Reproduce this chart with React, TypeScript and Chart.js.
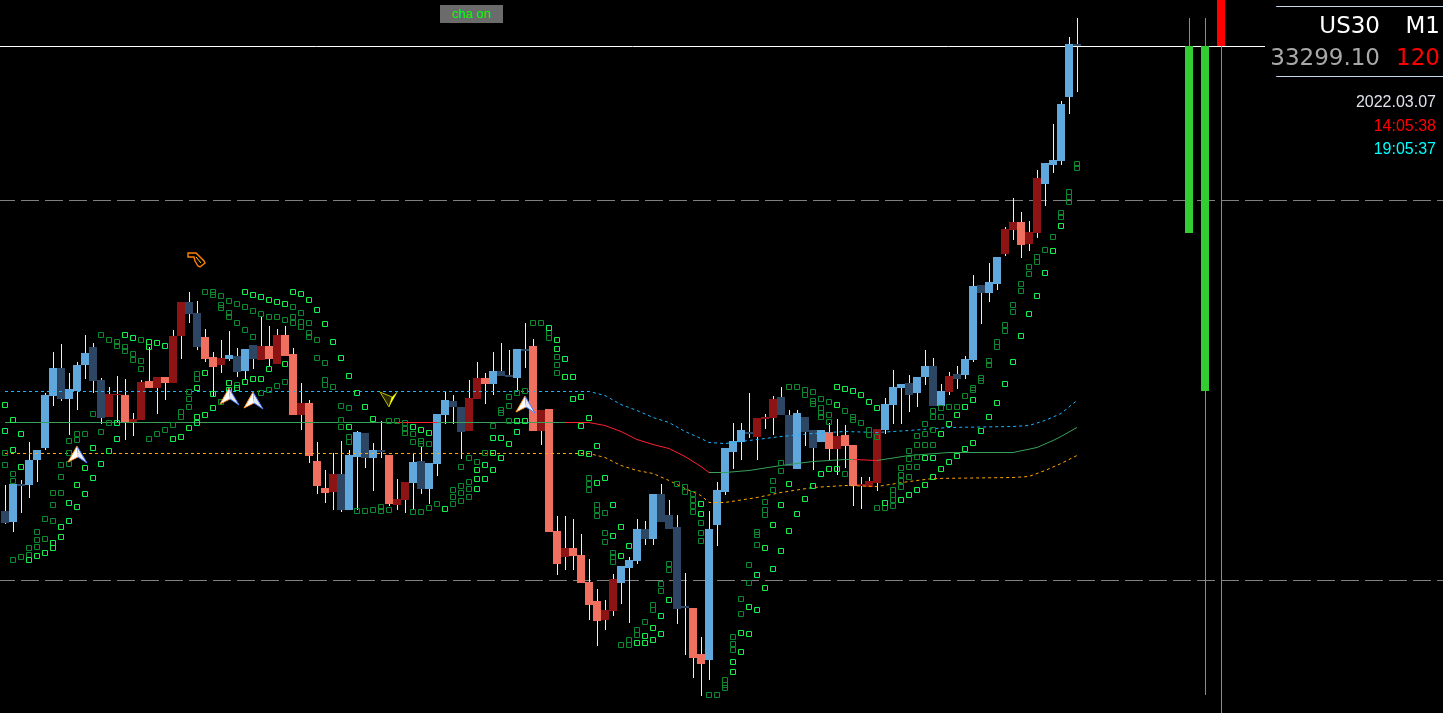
import React, { useEffect, useRef } from "react";
import { Chart, registerables } from "chart.js";
Chart.register(...registerables);

// ---------- candles (US30, M1) ----------
const candleOpen = [
  33066.6, 33061.1, 33080.1, 33079.6, 33092.1, 33098.1, 33124.1, 33138.1, 33122.6, 33126.6,
  33139.6, 33148.6, 33132.1, 33113.6, 33124.6, 33124.6, 33110.6, 33112.1, 33131.6, 33128.1,
  33133.6, 33130.6, 33154.1, 33171.1, 33165.6, 33153.6, 33143.6, 33139.6, 33142.6, 33144.1,
  33136.6, 33149.6, 33142.1, 33149.1, 33140.1, 33154.6, 33145.1, 33114.6, 33120.6, 33091.6,
  33078.1, 33076.1, 33085.1, 33067.1, 33093.6, 33105.6, 33093.1, 33097.1, 33094.6, 33069.6,
  33072.1, 33080.6, 33091.6, 33077.6, 33090.1, 33114.6, 33121.6, 33118.6, 33106.6, 33122.6,
  33133.1, 33130.1, 33136.6, 33134.6, 33133.1, 33147.6, 33149.1, 33106.6, 33117.6, 33056.6,
  33043.6, 33048.1, 33044.6, 33031.1, 33021.6, 33012.1, 33016.6, 33030.6, 33038.1, 33041.6,
  33057.6, 33052.6, 33075.1, 33064.6, 33058.6, 33019.1, 33018.1, 32995.1, 32992.1, 33059.6,
  33076.1, 33096.1, 33101.1, 33106.1, 33103.6, 33112.6, 33113.1, 33123.6, 33114.6, 33087.6,
  33113.6, 33107.1, 33101.1, 33106.1, 33097.6, 33104.6, 33099.6, 33079.1, 33078.6, 33080.6,
  33107.1, 33119.6, 33128.1, 33130.6, 33125.6, 33133.6, 33139.1, 33119.1, 33126.1, 33135.1,
  33134.6, 33142.1, 33179.6, 33175.6, 33180.1, 33195.1, 33207.1, 33211.1, 33200.1, 33205.6,
  33230.1, 33239.6, 33241.6, 33273.6, 33300.1,
];
const candleHigh = [
  33079.6, 33080.1, 33082.1, 33101.1, 33097.1, 33125.6, 33146.1, 33150.1, 33135.6, 33141.1,
  33154.6, 33150.6, 33133.1, 33128.6, 33134.1, 33132.6, 33115.6, 33132.1, 33148.6, 33133.6,
  33133.6, 33157.1, 33171.1, 33176.1, 33171.6, 33157.6, 33146.1, 33152.1, 33156.6, 33148.1,
  33147.6, 33149.6, 33164.1, 33159.1, 33157.6, 33159.1, 33148.1, 33130.6, 33122.1, 33101.1,
  33087.1, 33095.6, 33101.6, 33097.1, 33106.6, 33105.6, 33100.6, 33111.6, 33094.6, 33082.6,
  33081.1, 33095.6, 33099.1, 33090.6, 33115.1, 33126.6, 33124.6, 33118.6, 33132.1, 33141.1,
  33135.6, 33146.1, 33150.6, 33147.1, 33147.6, 33160.6, 33152.6, 33117.1, 33117.6, 33064.1,
  33064.1, 33062.6, 33055.1, 33042.6, 33027.6, 33022.1, 33035.1, 33039.1, 33043.6, 33062.6,
  33061.6, 33075.1, 33080.1, 33072.1, 33064.6, 33035.6, 33018.1, 33003.6, 33066.6, 33081.1,
  33098.1, 33110.6, 33110.6, 33125.6, 33113.1, 33115.1, 33124.1, 33128.6, 33117.1, 33117.1,
  33113.6, 33107.1, 33107.1, 33110.6, 33112.6, 33109.6, 33099.6, 33083.6, 33083.6, 33107.6,
  33123.1, 33137.1, 33130.1, 33134.6, 33133.6, 33147.1, 33143.1, 33130.1, 33136.1, 33139.1,
  33144.1, 33184.6, 33179.6, 33190.6, 33193.6, 33208.6, 33223.1, 33216.1, 33211.6, 33237.1,
  33240.6, 33260.1, 33271.6, 33303.6, 33313.1,
];
const candleLow = [
  33060.1, 33056.1, 33065.6, 33073.1, 33081.1, 33097.1, 33119.1, 33121.6, 33104.6, 33117.1,
  33132.6, 33125.6, 33110.1, 33113.6, 33110.6, 33102.1, 33104.1, 33112.1, 33128.1, 33115.1,
  33122.1, 33130.6, 33142.6, 33160.6, 33147.1, 33141.1, 33123.6, 33135.6, 33141.6, 33133.6,
  33132.1, 33137.6, 33142.1, 33138.6, 33140.1, 33144.1, 33114.6, 33107.1, 33090.6, 33075.1,
  33070.6, 33067.1, 33066.1, 33067.1, 33067.1, 33088.1, 33076.6, 33093.1, 33069.1, 33067.1,
  33065.6, 33067.1, 33075.1, 33070.1, 33084.1, 33110.1, 33110.1, 33092.6, 33106.6, 33122.6,
  33120.1, 33124.6, 33134.1, 33133.6, 33126.1, 33138.1, 33106.6, 33099.6, 33056.1, 33034.6,
  33037.1, 33037.1, 33030.6, 33012.1, 32999.1, 33007.1, 33014.1, 33020.1, 33010.6, 33040.1,
  33049.6, 33049.6, 33061.1, 33057.6, 33010.1, 32994.6, 32983.1, 32974.1, 32982.1, 33049.1,
  33074.6, 33087.6, 33092.1, 33103.1, 33092.1, 33107.6, 33104.6, 33114.6, 33089.1, 33087.6,
  33099.1, 33087.1, 33101.1, 33092.1, 33084.6, 33088.1, 33069.1, 33067.6, 33078.6, 33076.6,
  33105.1, 33110.1, 33110.1, 33116.1, 33118.6, 33129.6, 33119.1, 33119.1, 33124.6, 33127.6,
  33132.6, 33141.1, 33160.1, 33171.1, 33177.1, 33194.1, 33202.1, 33193.1, 33196.6, 33203.1,
  33219.1, 33235.6, 33239.6, 33265.1, 33276.1,
];
const candleClose = [
  33060.6, 33080.1, 33079.1, 33092.1, 33097.1, 33124.6, 33138.1, 33122.6, 33127.6, 33139.6,
  33145.6, 33131.6, 33113.1, 33125.1, 33125.1, 33110.6, 33112.6, 33131.1, 33128.1, 33133.6,
  33130.6, 33154.1, 33171.1, 33165.1, 33148.6, 33142.6, 33138.6, 33143.1, 33144.6, 33136.1,
  33147.6, 33142.6, 33149.1, 33142.6, 33154.6, 33144.1, 33114.6, 33120.6, 33094.1, 33079.1,
  33075.6, 33085.1, 33067.1, 33094.6, 33106.1, 33093.1, 33097.1, 33096.1, 33070.1, 33072.6,
  33081.1, 33091.1, 33077.6, 33090.6, 33115.1, 33122.1, 33118.6, 33106.1, 33123.1, 33133.1,
  33130.1, 33136.6, 33134.1, 33133.6, 33147.6, 33146.6, 33106.6, 33117.1, 33056.1, 33040.1,
  33048.1, 33044.1, 33030.6, 33019.6, 33011.6, 33017.1, 33032.6, 33039.1, 33042.1, 33057.6,
  33052.6, 33075.1, 33061.1, 33057.6, 33017.6, 33018.1, 32993.1, 32990.1, 33057.6, 33077.1,
  33098.1, 33101.6, 33107.1, 33105.1, 33113.1, 33113.6, 33122.6, 33114.6, 33089.1, 33115.6,
  33106.1, 33098.1, 33107.1, 33097.6, 33104.1, 33099.1, 33079.1, 33080.1, 33081.6, 33107.6,
  33120.1, 33128.6, 33130.1, 33124.6, 33133.6, 33139.1, 33119.1, 33126.6, 33134.1, 33132.6,
  33142.6, 33179.1, 33175.6, 33181.1, 33193.6, 33207.6, 33211.1, 33199.6, 33206.1, 33233.1,
  33240.6, 33242.1, 33270.1, 33300.1, 33299.1,
];
// trend state of the colouring indicator: 1 = blue family, -1 = red family
const candleTrend = [
  1, 1, 1, 1, 1, 1, 1, 1, 1, 1, 1, 1, 1, -1, -1, -1, -1, -1, -1, -1,
  -1, -1, -1, 1, 1, -1, -1, -1, 1, 1, 1, 1, -1, -1, -1, -1, -1, -1, -1, -1,
  -1, -1, 1, 1, 1, 1, 1, 1, -1, -1, -1, 1, 1, 1, 1, 1, 1, 1, -1, -1,
  -1, 1, 1, 1, 1, 1, -1, -1, -1, -1, -1, -1, -1, -1, -1, -1, -1, 1, 1, 1,
  1, 1, 1, 1, 1, 1, -1, -1, 1, 1, 1, 1, 1, 1, -1, -1, -1, 1, 1, 1,
  1, 1, 1, -1, -1, -1, -1, -1, -1, -1, 1, 1, 1, 1, 1, 1, 1, 1, -1, 1,
  1, 1, 1, 1, 1, -1, -1, -1, -1, -1, 1, 1, 1, 1, 1,
];

// ---------- parabolic SAR dots [bar index, price] ----------
const sarFast: [number, number][] = [
  [0,33119.6],[0,33106.6],[1,33112.1],[1,33097.1],[2,33105.1],[2,33088.6],[3,33042.1],[4,33044.1],[5,33045.6],
  [6,33050.6],[6,33048.1],[7,33058.6],[7,33053.6],[8,33070.6],[8,33061.6],[9,33079.6],[9,33068.6],[10,33088.1],
  [10,33075.1],[11,33098.1],[11,33083.1],[12,33090.1],[13,33096.6],[14,33110.6],[14,33102.6],[15,33154.6],
  [16,33153.1],[18,33151.1],[18,33148.6],[19,33150.6],[20,33149.1],[21,33102.6],[22,33103.6],[23,33108.1],
  [24,33128.1],[24,33113.6],[24,33110.6],[25,33135.6],[25,33114.6],[26,33125.1],[26,33118.1],[28,33130.6],
  [28,33127.1],[29,33128.1],[30,33176.1],[30,33131.1],[31,33174.6],[31,33132.6],[32,33173.6],[32,33132.6],
  [33,33172.1],[33,33137.6],[34,33171.1],[35,33170.1],[35,33140.1],[36,33176.1],[37,33175.1],[38,33172.1],
  [39,33167.1],[40,33160.1],[41,33151.1],[42,33143.1],[43,33134.1],[43,33108.6],[44,33125.6],[45,33118.6],
  [46,33112.6],[51,33108.6],[52,33107.1],[53,33105.6],[55,33067.6],[59,33077.6],[59,33082.6],[59,33087.1],
  [60,33082.6],[60,33089.6],[61,33087.1],[61,33095.6],[61,33103.1],[62,33093.1],[62,33103.1],[63,33100.1],
  [64,33106.1],[64,33111.6],[65,33111.6],[68,33158.1],[69,33152.1],[69,33147.6],[70,33142.6],[70,33133.6],
  [71,33133.6],[71,33122.6],[72,33123.6],[72,33109.1],[72,33095.6],[73,33113.1],[73,33095.1],[74,33099.1],
  [74,33080.6],[75,33083.1],[76,33069.6],[76,33054.1],[77,33058.6],[77,33044.1],[78,33049.1],[79,33000.6],
  [80,33004.1],[80,33000.6],[81,33008.1],[81,33002.1],[82,33014.1],[82,33005.1],[83,33022.1],[87,33070.1],
  [87,33065.1],[91,32991.1],[91,32986.1],[92,33005.6],[92,32996.1],[93,33018.6],[93,33005.1],[94,33034.6],
  [94,33017.1],[95,33048.1],[95,33028.1],[96,33059.6],[96,33037.6],[97,33069.6],[97,33046.6],[98,33080.1],
  [98,33056.6],[99,33065.1],[100,33072.6],[101,33079.1],[102,33085.1],[103,33087.6],[104,33087.6],[104,33128.6],
  [104,33119.6],[105,33127.6],[106,33126.6],[107,33124.6],[108,33121.1],[109,33118.1],[110,33070.6],[112,33072.1],
  [113,33074.6],[114,33077.1],[115,33079.6],[115,33093.1],[116,33083.6],[116,33093.1],[117,33087.6],[117,33105.1],
  [118,33091.1],[118,33110.1],[119,33094.1],[119,33114.6],[120,33097.6],[120,33118.6],[121,33100.6],[121,33122.1],
  [122,33106.6],[123,33113.6],[124,33120.6],[125,33130.1],[126,33141.1],[127,33154.1],[128,33165.1],[129,33174.1],
  [130,33185.6],[131,33196.6],[132,33209.1],
];
const sarSlow: [number, number][] = [
  [0,33095.6],[0,33089.6],[1,33085.1],[1,33081.6],[1,33042.1],[2,33043.6],[3,33048.1],[3,33044.6],[4,33056.1],
  [4,33052.1],[4,33048.6],[5,33062.6],[5,33052.6],[6,33075.6],[6,33069.6],[6,33061.6],[7,33089.6],[7,33083.6],
  [7,33075.6],[8,33101.6],[8,33095.6],[8,33090.1],[9,33105.1],[9,33102.1],[10,33105.1],[11,33115.1],[12,33154.6],
  [12,33106.1],[13,33152.1],[13,33110.6],[14,33151.1],[14,33149.1],[15,33148.6],[15,33146.6],[16,33145.1],
  [16,33142.1],[17,33152.1],[17,33141.6],[17,33137.6],[18,33102.6],[19,33105.1],[20,33107.1],[21,33109.6],
  [22,33113.6],[22,33116.1],[23,33126.1],[23,33122.6],[23,33118.6],[24,33135.1],[24,33132.6],[25,33176.1],
  [26,33176.1],[26,33174.6],[27,33174.1],[27,33169.6],[27,33168.1],[27,33121.1],[28,33171.6],[28,33165.6],
  [28,33163.6],[29,33170.1],[29,33160.6],[29,33129.6],[30,33168.6],[30,33157.1],[31,33166.6],[31,33153.6],
  [32,33165.1],[32,33125.6],[33,33163.6],[33,33127.1],[34,33163.6],[34,33129.1],[35,33162.1],[35,33131.1],
  [36,33168.6],[36,33163.6],[36,33160.6],[37,33165.6],[37,33161.1],[37,33158.6],[38,33160.6],[38,33155.6],
  [38,33153.6],[39,33152.1],[39,33143.1],[40,33140.6],[40,33132.1],[40,33129.6],[41,33128.6],[42,33119.1],
  [42,33112.1],[42,33108.6],[43,33118.1],[43,33103.6],[43,33101.1],[44,33066.6],[45,33066.6],[46,33067.1],
  [47,33068.6],[47,33066.6],[48,33067.1],[48,33111.6],[49,33111.6],[50,33110.6],[50,33107.6],[50,33105.6],
  [51,33105.1],[51,33101.1],[51,33066.1],[52,33101.6],[52,33100.1],[52,33066.1],[53,33100.1],[53,33068.1],
  [54,33070.1],[56,33070.1],[56,33073.6],[56,33077.1],[57,33071.6],[57,33075.6],[57,33079.1],[57,33088.6],
  [58,33073.6],[58,33077.6],[58,33081.1],[58,33093.1],[59,33091.1],[60,33095.6],[61,33109.1],[62,33115.6],
  [62,33117.1],[63,33111.6],[63,33119.1],[63,33123.6],[64,33125.6],[65,33126.6],[66,33160.6],[67,33160.6],
  [68,33155.6],[68,33153.1],[69,33143.6],[69,33139.6],[69,33135.6],[73,33083.1],[73,33080.1],[73,33077.1],
  [74,33069.6],[74,33067.1],[74,33064.1],[75,33065.6],[75,33055.6],[75,33051.1],[76,33045.6],[76,33043.6],
  [76,33041.1],[77,32999.6],[78,33002.1],[78,32999.6],[79,33007.1],[79,33004.6],[80,33011.1],[81,33019.6],
  [81,33017.1],[82,33030.1],[82,33026.6],[83,33040.1],[83,33037.1],[84,33080.1],[85,33078.6],[85,33076.1],
  [86,33075.1],[86,33072.1],[86,33069.1],[86,33066.1],[87,33060.6],[87,33055.6],[87,33051.6],[88,32974.6],
  [89,32974.6],[90,32982.1],[90,32979.6],[90,32978.1],[91,33003.6],[91,33000.1],[91,32997.1],[92,33022.6],
  [92,33015.1],[93,33039.6],[93,33030.6],[94,33056.1],[94,33054.6],[94,33049.6],[95,33071.1],[95,33067.1],
  [95,33064.6],[96,33081.6],[96,33077.1],[97,33090.6],[97,33086.6],[98,33128.6],[99,33128.6],[100,33127.1],
  [100,33124.6],[101,33126.1],[101,33121.6],[101,33120.1],[102,33122.6],[102,33118.1],[102,33115.6],
  [102,33113.6],[103,33121.1],[103,33114.6],[103,33111.1],[105,33116.6],[105,33085.1],[106,33113.6],
  [106,33112.1],[107,33110.6],[108,33107.1],[108,33104.6],[109,33103.6],[109,33068.1],[110,33068.1],
  [111,33069.1],[111,33072.1],[111,33074.6],[111,33077.1],[112,33078.6],[112,33081.6],[112,33084.6],
  [112,33088.1],[113,33083.6],[113,33088.6],[113,33092.6],[113,33096.6],[114,33088.6],[114,33093.6],
  [114,33099.6],[114,33104.1],[115,33099.6],[115,33105.1],[115,33110.1],[116,33099.6],[116,33107.1],
  [116,33113.6],[116,33116.6],[117,33113.6],[117,33118.1],[118,33118.6],[119,33118.6],[120,33124.1],
  [121,33128.1],[121,33127.1],[122,33133.1],[122,33131.6],[123,33141.6],[123,33139.6],[124,33151.1],
  [124,33148.6],[125,33159.6],[125,33156.6],[126,33169.6],[126,33166.1],[127,33180.1],[127,33176.6],
  [128,33188.6],[128,33185.1],[129,33193.6],[129,33191.1],[130,33197.1],[131,33203.6],[132,33215.6],
  [132,33213.6],[133,33226.1],[133,33223.6],[133,33221.1],[134,33240.1],[134,33238.1],
];

// ---------- envelope / band lines [bar index, price] ----------
const bandUpper: [number, number][] = [
  [0,33126.6],[73,33126.6],[75,33124.6],[77,33120.1],[79,33117.1],[81,33113.6],[83,33111.1],[85,33106.6],
  [87,33103.1],[88,33101.1],[90,33100.6],[93,33102.1],[97,33104.1],[101,33105.6],[105,33106.6],[109,33106.1],
  [113,33107.1],[118,33108.6],[126,33109.1],[128,33109.6],[130,33112.1],[132,33115.6],[134,33122.1],
];
const bandMiddle: [number, number][] = [
  [0,33111.1],[49,33111.1],[54,33111.1],[70,33111.1],[73,33111.1],[75,33109.6],[77,33106.6],[79,33102.6],
  [81,33100.1],[83,33098.1],[85,33094.1],[87,33089.1],[88,33086.1],[90,33086.1],[93,33087.1],[97,33089.6],
  [101,33091.6],[105,33092.6],[106,33092.6],[109,33092.1],[113,33094.6],[118,33096.1],[126,33096.1],
  [129,33098.6],[131,33102.1],[132,33104.1],[134,33108.6],
];
const middleFallingRanges: [number, number][] = [[49, 54], [70, 88], [106, 109]];
const bandLower: [number, number][] = [
  [0,33095.6],[73,33095.6],[75,33093.6],[77,33089.6],[79,33087.1],[81,33085.6],[83,33082.1],[85,33078.1],
  [87,33074.6],[88,33071.1],[90,33071.1],[94,33073.6],[97,33076.1],[101,33078.6],[105,33079.6],[109,33079.1],
  [113,33081.6],[116,33083.1],[126,33083.6],[128,33084.1],[130,33087.1],[132,33090.6],[134,33094.6],
];

// ---------- levels ----------
const bidPrice = 33299.1;
const levelPrices = [33222.1, 33032.1];
const panelLinePrices = [33319.1, 33284.1];

// ---------- strength bars on the right ----------
const sideIndex = [148, 150, 152];
const sideOpen = [33299.1, 33299.1, 33299.1];
const sideClose = [33205.6, 33126.6, 33330.0];
const sideHigh = [33313.1, 33313.1, 33299.1];
const sideLow = [33205.6, 32974.6, 32950.0];

// ---------- signal arrows ----------
const buyArrows: [number, number][] = [[9, 33094.6], [28, 33123.6], [31, 33121.6], [65, 33119.6]];
const sellArrows: [number, number][] = [[48, 33122.6]];
const alertMarks: [number, number][] = [[24, 33192.1]];

// ---------- labels ----------
const symbolLabel = "US30";
const periodLabel = "M1";
const priceLabel = "33299.10";
const spreadLabel = "120";
const dateLabel = "2022.03.07";
const serverTimeLabel = "14:05:38";
const localTimeLabel = "19:05:37";
const buttonLabel = "cha on";

const COL_UP = "#60a8dc";
const COL_UP_WEAK = "#2c4664";
const COL_DN = "#f07060";
const COL_DN_WEAK = "#8c1414";

function makeBuyArrow() {
  const c = document.createElement("canvas");
  c.width = 22; c.height = 20;
  const g = c.getContext("2d")!;
  g.fillStyle = "#ffffff";
  g.beginPath(); g.moveTo(11, 1); g.lineTo(2, 17); g.lineTo(12, 12); g.closePath(); g.fill();
  g.fillStyle = "#e8e8f0";
  g.beginPath(); g.moveTo(11, 1); g.lineTo(12, 12); g.lineTo(21, 18); g.closePath(); g.fill();
  g.lineWidth = 1;
  g.strokeStyle = "#ff9a30";
  g.beginPath(); g.moveTo(11, 1); g.lineTo(2, 17); g.lineTo(12, 12); g.stroke();
  g.strokeStyle = "#4a7cff";
  g.beginPath(); g.moveTo(11, 1); g.lineTo(21, 18); g.lineTo(12, 12); g.stroke();
  return c;
}
function makeSellArrow() {
  const c = document.createElement("canvas");
  c.width = 22; c.height = 20;
  const g = c.getContext("2d")!;
  g.fillStyle = "#2a2a00";
  g.beginPath(); g.moveTo(2, 3); g.lineTo(14, 8); g.lineTo(11, 18); g.closePath(); g.fill();
  g.strokeStyle = "#b8b800"; g.lineWidth = 1; g.stroke();
  g.fillStyle = "#ffff00";
  g.beginPath(); g.moveTo(14, 8); g.lineTo(20, 2); g.lineTo(11, 18); g.closePath(); g.fill();
  return c;
}
function makeAlertMark() {
  const c = document.createElement("canvas");
  c.width = 20; c.height = 18;
  const g = c.getContext("2d")!;
  g.strokeStyle = "#ff8000"; g.lineWidth = 1.4;
  g.beginPath();
  g.moveTo(1, 2); g.lineTo(9, 2); g.lineTo(17, 10); g.lineTo(18, 12); g.lineTo(13, 16);
  g.lineTo(11, 15); g.lineTo(8, 10); g.lineTo(7, 6); g.lineTo(1, 6); g.closePath();
  g.stroke();
  g.strokeStyle = "#ffcc00"; g.lineWidth = 1;
  g.beginPath(); g.moveTo(9, 6); g.lineTo(14, 12); g.stroke();
  return c;
}

export default function App() {
  const ref = useRef<HTMLCanvasElement>(null);

  useEffect(() => {
    document.body.style.margin = "0";
    document.body.style.background = "#000";
    const canvas = ref.current!;
    const bodyColors = candleOpen.map((o, i) => {
      const up = candleClose[i] >= o;
      if (candleTrend[i] > 0) return up ? COL_UP : COL_UP_WEAK;
      return up ? COL_DN_WEAK : COL_DN;
    });
    const xMin = -0.625, xMax = 179.75;
    const pts = (arr: [number, number][]) => arr.map(([x, y]) => ({ x, y }));
    const hline = (p: number, x0: number, x1: number) => [{ x: x0, y: p }, { x: x1, y: p }];

    const chart = new Chart(canvas, {
      type: "bar",
      data: {
        datasets: [
          { type: "scatter", data: pts(buyArrows), pointStyle: makeBuyArrow() as any, order: 0, xAxisID: "x", yAxisID: "y" } as any,
          { type: "scatter", data: pts(sellArrows), pointStyle: makeSellArrow() as any, order: 0, xAxisID: "x", yAxisID: "y" } as any,
          { type: "scatter", data: pts(alertMarks), pointStyle: makeAlertMark() as any, order: 0, xAxisID: "x", yAxisID: "y" } as any,
          {
            type: "scatter", data: pts(sarFast), pointStyle: "rect", pointRadius: 3.5355, borderWidth: 1,
            borderColor: "#14f04c", backgroundColor: "rgba(0,0,0,0)", order: 1, xAxisID: "x", yAxisID: "y",
          } as any,
          {
            type: "scatter", data: pts(sarSlow), pointStyle: "rect", pointRadius: 3.5355, borderWidth: 1,
            borderColor: "#0c8a30", backgroundColor: "rgba(0,0,0,0)", order: 1, xAxisID: "x", yAxisID: "y",
          } as any,
          {
            type: "line", data: pts(bandUpper), borderColor: "#1ab4ff", borderWidth: 1, borderDash: [3, 3],
            pointRadius: 0, tension: 0, order: 2, xAxisID: "x", yAxisID: "yl",
          } as any,
          {
            type: "line", data: pts(bandMiddle), borderColor: "#3aa05a", borderWidth: 1,
            pointRadius: 0, tension: 0, order: 2, xAxisID: "x", yAxisID: "yl",
            segment: {
              borderColor: (ctx: any) => {
                const x = ctx.p0.parsed.x;
                return middleFallingRanges.some(([a, b]) => x >= a && x < b) ? "#ff2030" : "#3aa05a";
              },
            },
          } as any,
          {
            type: "line", data: pts(bandLower), borderColor: "#ffa500", borderWidth: 1, borderDash: [3, 3],
            pointRadius: 0, tension: 0, order: 2, xAxisID: "x", yAxisID: "yl",
          } as any,
          {
            type: "bar", data: candleOpen.map((o, i) => ({ x: i, y: [o, candleClose[i]] })),
            backgroundColor: bodyColors, borderWidth: 0, barThickness: 8, grouped: false, inflateAmount: 0,
            order: 4, xAxisID: "x", yAxisID: "y",
          } as any,
          {
            type: "bar", data: candleLow.map((l, i) => ({ x: i, y: [l, candleHigh[i]] })),
            backgroundColor: "#f0f0f0", borderWidth: 0, barThickness: 1, grouped: false, inflateAmount: 0,
            order: 5, xAxisID: "xw", yAxisID: "y",
          } as any,
          {
            type: "bar", data: sideIndex.map((x, i) => ({ x, y: [sideOpen[i], sideClose[i]] })),
            backgroundColor: sideIndex.map((_, i) => (sideClose[i] < sideOpen[i] ? "#33cc33" : "#ff0000")),
            borderWidth: 0, barThickness: 8, grouped: false, inflateAmount: 0, order: 4, xAxisID: "x", yAxisID: "y",
          } as any,
          {
            type: "bar", data: sideIndex.map((x, i) => ({ x, y: [sideLow[i], sideHigh[i]] })),
            backgroundColor: "#8a8a8a", borderWidth: 0, barThickness: 1, grouped: false, inflateAmount: 0,
            order: 5, xAxisID: "xw", yAxisID: "y",
          } as any,
          {
            type: "line", data: hline(bidPrice, xMin, 157.5), borderColor: "#ffffff", borderWidth: 1,
            pointRadius: 0, order: 6, xAxisID: "x", yAxisID: "yl",
          } as any,
          ...levelPrices.map((p) => ({
            type: "line", data: hline(p, xMin, xMax), borderColor: "#808080", borderWidth: 1,
            borderDash: [18, 6], borderDashOffset: 3, pointRadius: 0, order: 6, xAxisID: "x", yAxisID: "yl",
          } as any)),
          ...panelLinePrices.map((p) => ({
            type: "line", data: hline(p, 158.9, xMax), borderColor: "#c4d8ec", borderWidth: 1,
            pointRadius: 0, order: 6, xAxisID: "x", yAxisID: "yl",
          } as any)),
        ],
      },
      options: {
        responsive: false,
        maintainAspectRatio: false,
        devicePixelRatio: 1,
        animation: false,
        events: [],
        layout: { padding: 0, autoPadding: false },
        plugins: { legend: { display: false }, tooltip: { enabled: false } },
        scales: {
          x: { type: "linear", min: xMin, max: xMax, display: false, offset: false },
          xw: { type: "linear", min: -0.6875, max: 179.6875, display: false, offset: false },
          y: { type: "linear", min: 32965.6, max: 33322.1, display: false },
          yl: { type: "linear", min: 32965.85, max: 33322.35, display: false },
        },
      } as any,
    });
    return () => chart.destroy();
  }, []);

  const big: React.CSSProperties = {
    position: "absolute", font: '23px "DejaVu Sans", sans-serif', lineHeight: "23px", whiteSpace: "nowrap",
  };
  const small: React.CSSProperties = {
    position: "absolute", font: '16px "Liberation Sans", Arial, sans-serif', lineHeight: "16px", whiteSpace: "nowrap",
  };

  return (
    <div style={{ position: "fixed", left: 0, top: 0, width: 1443, height: 713, background: "#000", overflow: "hidden" }}>
      <canvas ref={ref} width={1443} height={713} style={{ position: "absolute", left: 0, top: 0, width: 1443, height: 713 }} />
      <div style={{ ...big, right: 63, top: 14, color: "#ffffff" }}>{symbolLabel}</div>
      <div style={{ ...big, right: 3, top: 14, color: "#ffffff" }}>{periodLabel}</div>
      <div style={{ ...big, right: 63, top: 46, color: "#a8a8a8" }}>{priceLabel}</div>
      <div style={{ ...big, right: 3, top: 46, color: "#ff0000" }}>{spreadLabel}</div>
      <div style={{ ...small, right: 7, top: 93.5, color: "#e0e0ee" }}>{dateLabel}</div>
      <div style={{ ...small, right: 7, top: 117.5, color: "#ff0000" }}>{serverTimeLabel}</div>
      <div style={{ ...small, right: 7, top: 141, color: "#00ffff" }}>{localTimeLabel}</div>
      <div
        style={{
          position: "absolute", left: 440, top: 5, width: 63, height: 18, background: "#6b6b6b", color: "#00ff00",
          font: '13px "Liberation Sans", Arial, sans-serif', lineHeight: "18px", textAlign: "center",
        }}
      >
        {buttonLabel}
      </div>
    </div>
  );
}
